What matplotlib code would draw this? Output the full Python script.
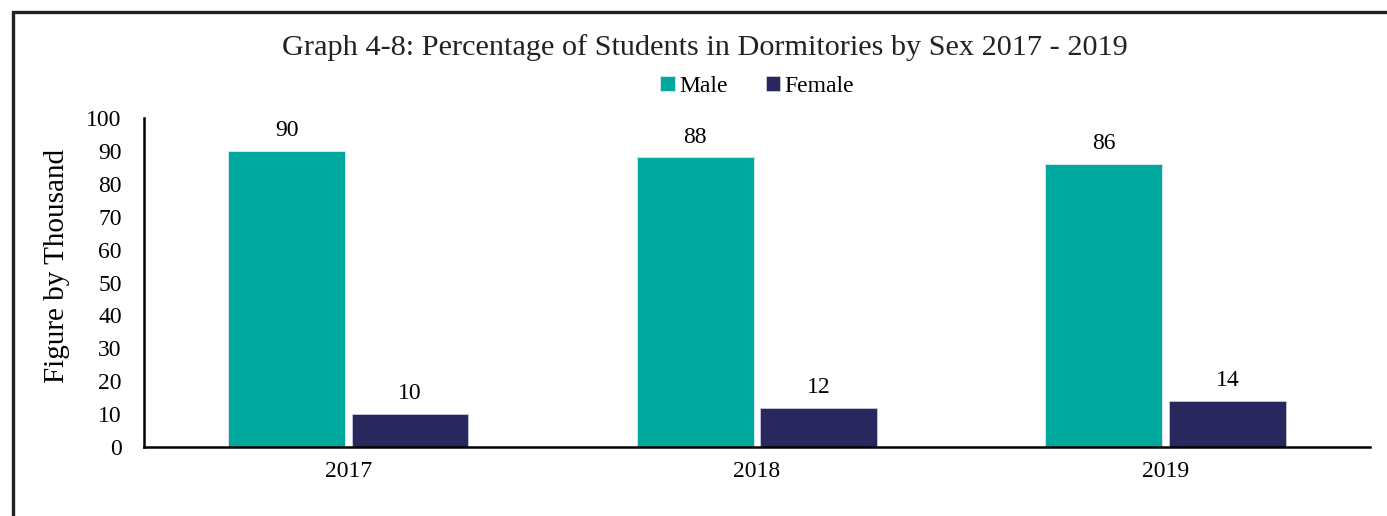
import matplotlib.pyplot as plt
import numpy as np
from matplotlib.patches import Rectangle

plt.rcParams['font.family'] = ['Liberation Serif', 'DejaVu Serif']

# 数据
years = ['2017', '2018', '2019']
male = [90, 88, 86]
female = [10, 12, 14]

male_color = '#00A99D'
female_color = '#29285E'

fig = plt.figure(figsize=(13.87, 5.16), dpi=100)
ax = fig.add_axes([0.1038, 0.1337, 0.8839, 0.6376])

x = np.arange(len(years))
w = 0.286
b1 = ax.bar(x - 0.151, male, w, color=male_color, edgecolor='#dfe8ee', linewidth=0.6, label='Male')
b2 = ax.bar(x + 0.151, female, w, color=female_color, edgecolor='#c8c8dc', linewidth=0.6, label='Female')

for bars in (b1, b2):
    ax.bar_label(bars, padding=7, fontsize=17)

ax.set_xlim(-0.5, 2.5)
ax.set_ylim(0, 100)
ax.set_yticks(range(0, 101, 10))
ax.set_xticks(x)
ax.set_xticklabels(years)
ax.tick_params(axis='both', length=0, labelsize=17)
ax.tick_params(axis='x', pad=10)
ax.tick_params(axis='y', pad=16)
for s in ['top', 'right']:
    ax.spines[s].set_visible(False)
ax.spines['left'].set_linewidth(1.8)
ax.spines['bottom'].set_linewidth(1.8)
ax.set_ylabel('Figure by Thousand', fontsize=21)
ax.yaxis.set_label_coords(-0.0605, 0.55)

fig.text(0.508, 0.908, 'Graph 4-8: Percentage of Students in Dormitories by Sex 2017 - 2019',
         ha='center', va='center', fontsize=21.8, color='#222222')

fig.legend(handles=[b1, b2], loc='center', bbox_to_anchor=(0.546, 0.833), ncol=2,
           frameon=False, fontsize=17, handlelength=0.6, handleheight=0.6,
           handletextpad=0.2, columnspacing=1.6)

# 外框
fig.patches.append(Rectangle((0.0094, -0.05), 1.05, 0.977 + 0.05, transform=fig.transFigure,
                             fill=False, edgecolor='#222222', linewidth=2.4))

fig.savefig('out.png', dpi=100)
